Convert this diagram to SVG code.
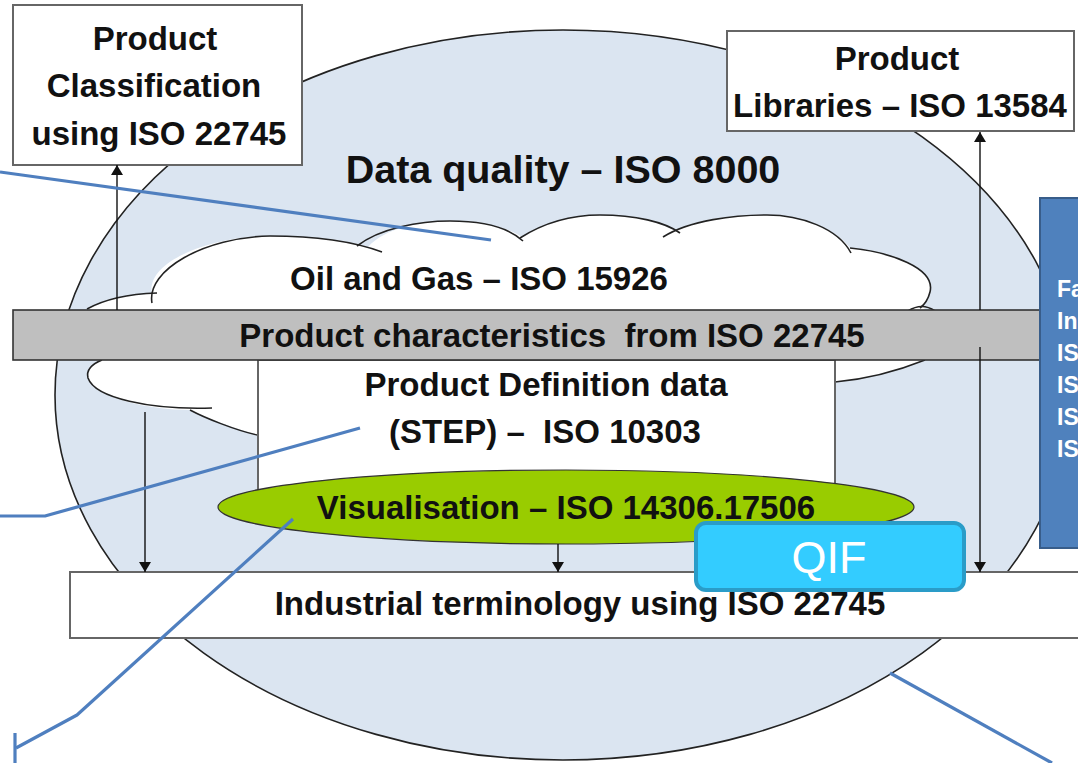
<svg xmlns="http://www.w3.org/2000/svg" width="1078" height="763" viewBox="0 0 1078 763">
  <style>
    .t { font-family: "Liberation Sans", Arial, sans-serif; font-weight: bold; fill: #111; text-anchor: middle; font-size: 33px; }
    .box { fill: #fff; stroke: #666; stroke-width: 2; }
    .outline { fill: none; stroke: #222; stroke-width: 1.6; }
    .arrow { stroke: #111; stroke-width: 1.4; fill: none; }
    .link { stroke: #4f7fbf; stroke-width: 3.2; fill: none; stroke-linejoin: round; }
  </style>
  <defs>
    <marker id="ah" viewBox="0 0 10 12" refX="10" refY="6" markerWidth="10" markerHeight="12" markerUnits="userSpaceOnUse" orient="auto">
      <path d="M0,0 L10,6 L0,12 Z" fill="#111"/>
    </marker>
  </defs>

  <rect width="1078" height="763" fill="#fff"/>

  <!-- outer scope: data quality -->
  <g id="data-quality">
    <ellipse cx="563" cy="395" rx="508" ry="365" fill="#dbe5f1" stroke="#222" stroke-width="1.6"/>
    <text class="t" x="563" y="183" style="font-size:39.5px">Data quality – ISO 8000</text>
  </g>

  <!-- oil and gas cloud -->
  <g id="oil-gas">
    <path d="M 87 309 C 105 299 130 294 152 294 C 145 262 210 236 270 236 C 310 236 345 240 368 247
             C 385 228 420 221 450 221 C 480 221 505 226 522 237
             C 545 222 570 215 600 215 C 635 215 660 222 675 231
             C 700 218 735 215 767 215 C 800 215 835 228 850 248
             C 890 252 936 268 930 292 L 924 306 L 925 312 L 925 360
             Q 880 378 835 382 L 835 400 L 257 400 L 257 435
             C 235 428 205 418 190 410 C 150 410 95 398 88 378 C 85 368 95 362 102 360 L 102 312 Z"
          fill="#fff" stroke="none"/>
    <path class="outline" d="M 87 309 C 105 299 130 294 157 293"/>
    <path class="outline" d="M 152 303 C 146 270 205 237 270 236 C 315 236 355 242 382 252"/>
    <path class="outline" d="M 357 246 C 380 228 420 221 450 221 C 480 221 507 226 523 241"/>
    <path class="outline" d="M 520 238 C 545 222 570 215 600 215 C 635 215 665 222 680 233"/>
    <path class="outline" d="M 663 237 C 690 220 735 215 767 215 C 800 215 838 228 851 253"/>
    <path class="outline" d="M 850 248 C 890 252 936 268 930 292 C 928 300 924 305 920 308"/>
    <path class="outline" d="M 908 311 Q 922 302 935 311"/>
    <path class="outline" d="M 102 360 C 92 364 86 370 88 378 C 95 398 150 410 212 408"/>
    <path class="outline" d="M 190 410 C 205 418 235 430 257 435"/>
    <path class="outline" d="M 925 360 Q 880 378 835 382"/>
    <text class="t" x="479" y="290">Oil and Gas – ISO 15926</text>
  </g>

  <!-- product definition data -->
  <g id="product-definition">
    <rect class="box" x="258" y="360" width="577" height="140"/>
    <text class="t" x="546" y="396">Product Definition data</text>
    <text class="t" x="545" y="443" xml:space="preserve">(STEP) –  ISO 10303</text>
  </g>

  <!-- characteristics bar -->
  <g id="product-characteristics">
    <rect x="13" y="310" width="1035" height="50" fill="#bfbfbf" stroke="#333" stroke-width="1.6"/>
    <text class="t" x="552" y="347" xml:space="preserve">Product characteristics  from ISO 22745</text>
  </g>

  <!-- visualisation -->
  <g id="visualisation">
    <ellipse cx="566" cy="507" rx="348" ry="37" fill="#99cc00" stroke="#333" stroke-width="1.2"/>
    <text class="t" x="566" y="519">Visualisation – ISO 14306.17506</text>
  </g>

  <!-- industrial terminology -->
  <g id="industrial-terminology">
    <rect class="box" x="70" y="572" width="1020" height="66"/>
    <text class="t" x="580" y="615">Industrial terminology using ISO 22745</text>
  </g>

  <!-- classification -->
  <g id="product-classification">
    <rect class="box" x="13" y="5" width="289" height="160"/>
    <text class="t" x="155" y="50">Product</text>
    <text class="t" x="154" y="97">Classification</text>
    <text class="t" x="159" y="145">using ISO 22745</text>
  </g>

  <!-- libraries -->
  <g id="product-libraries">
    <rect class="box" x="727" y="31" width="347" height="100"/>
    <text class="t" x="897" y="70">Product</text>
    <text class="t" x="900" y="117">Libraries – ISO 13584</text>
  </g>

  <!-- facility standards panel -->
  <g id="facility-panel">
    <rect x="1040" y="198" width="60" height="350" fill="#4f81bd" stroke="#385d8a" stroke-width="2"/>
    <g font-family="Liberation Sans, Arial, sans-serif" font-weight="bold" font-size="23" fill="#fff">
      <text x="1057" y="297">Fa</text>
      <text x="1057" y="329">In</text>
      <text x="1057" y="361">IS</text>
      <text x="1057" y="393">IS</text>
      <text x="1057" y="425">IS</text>
      <text x="1057" y="457">IS</text>
    </g>
  </g>

  <!-- connectors -->
  <g id="connectors">
    <line class="arrow" x1="117" y1="310" x2="117" y2="165" marker-end="url(#ah)"/>
    <line class="arrow" x1="145" y1="412" x2="145" y2="572" marker-end="url(#ah)"/>
    <line class="arrow" x1="558" y1="544" x2="558" y2="572" marker-end="url(#ah)"/>
    <line class="arrow" x1="980" y1="310" x2="980" y2="132" marker-end="url(#ah)"/>
    <line class="arrow" x1="980" y1="347" x2="980" y2="572" marker-end="url(#ah)"/>

    <polyline class="link" points="0,172 491,240"/>
    <polyline class="link" points="0,516 45,516 360,428"/>
    <polyline class="link" points="293,519 77,715 16,748"/>
    <line class="link" x1="15" y1="733" x2="15" y2="763"/>
    <line class="link" x1="890" y1="673" x2="1052" y2="763"/>
  </g>

  <!-- QIF tag -->
  <g id="qif">
    <rect x="696" y="523" width="268" height="67" rx="10" fill="#33ccff" stroke="#2a9cc8" stroke-width="4"/>
    <text x="829" y="573" font-family="Liberation Sans, Arial, sans-serif" font-size="45" fill="#fff" text-anchor="middle">QIF</text>
  </g>
</svg>
